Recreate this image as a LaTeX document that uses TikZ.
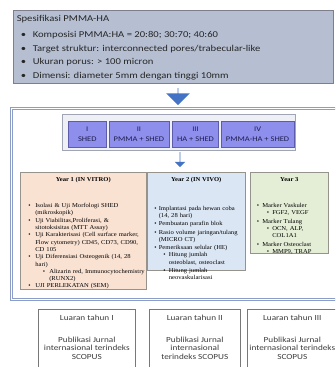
\documentclass[tikz,border=0pt]{standalone}
\usepackage{fontspec}
\setmainfont{Carlito}[FakeStretch=1.18]
\newfontfamily\serifpart{Liberation Serif}[FakeStretch=1.1]
\usepackage{enumitem}
\usetikzlibrary{shapes.arrows}
\usetikzlibrary{positioning}
\usetikzlibrary{calc}
\definecolor{specfill}{RGB}{182,191,210}
\definecolor{specline}{RGB}{125,128,138}
\definecolor{frameblue}{RGB}{140,158,200}
\definecolor{rowfill}{RGB}{238,240,246}
\definecolor{rowline}{RGB}{160,165,182}
\definecolor{groupfill}{RGB}{142,142,236}
\definecolor{groupline}{RGB}{92,92,170}
\definecolor{grouptext}{RGB}{30,30,80}
\definecolor{arrowblue}{RGB}{68,114,196}
\definecolor{vitrofill}{RGB}{250,226,211}
\definecolor{vivofill}{RGB}{219,230,244}
\definecolor{yearthreefill}{RGB}{228,238,214}
\definecolor{yearline}{RGB}{150,146,140}
\definecolor{outline}{RGB}{120,120,120}
\definecolor{outink}{RGB}{60,60,60}
\newcommand\linewd{.6pt}
\newcommand\specfont{\fontsize{9}{13.7}\selectfont}
\newcommand\groupfont{\fontsize{7.2}{9.6}\selectfont}
\newcommand\yearfont{\serifpart\fontsize{6}{7.3}\selectfont}
\newcommand\outfont{\fontsize{7.8}{8.5}\selectfont}
\newcommand\specitem{\makebox[16pt][l]{\hspace*{4pt}\textbullet}}
\setlist[itemize]{label=\textbullet,itemsep=1pt,topsep=0pt,parsep=0pt,partopsep=0pt}
\tikzset{
  specbox/.style={draw=specline,fill=specfill,line width=.9pt},
  frame/.style={draw=frameblue,double=white,double distance=1.2pt,line width=.6pt},
  rowbox/.style={draw=rowline,fill=rowfill},
  groupbox/.style={draw=groupline,fill=groupfill,text=grouptext,font=\groupfont,
    align=center,minimum height=26},
  blockarrow/.style={single arrow,shape border rotate=270,fill=arrowblue,draw=none},
  yearbox/.style={draw=yearline,fill=#1},
  yeartitle/.style={font=\yearfont\bfseries},
  yearlist/.style={font=\yearfont,align=left,yshift=-9pt},
  outbox/.style={draw=outline,minimum height=80},
  outtext/.style={font=\outfont,text=outink,align=center}
}

\begin{document}
\begin{tikzpicture}[x=1pt,y=-1pt,inner sep=0pt,line width=\linewd]
  \clip (0,0) rectangle (335,367);
  % specification
  \node[specbox,minimum width=320,minimum height=73,anchor=north west] (spec) at (13,10) {};
  \node[font=\specfont,text=black!85,align=left,anchor=north west] (spectxt) at (16.5,15) {%
    Spesifikasi PMMA-HA\\[2.3pt]
    \specitem Komposisi PMMA:HA = 20:80; 30:70; 40:60\\
    \specitem Target struktur: interconnected pores/trabecular-like\\
    \specitem Ukuran porus: > 100 micron\\
    \specitem Dimensi: diameter 5mm dengan tinggi 10mm};
  \node[blockarrow,minimum height=17,minimum width=20,single arrow head extend=11.5] (bigarrow) at (178,96.5) {};
  % frame
  \node[frame,minimum width=340,minimum height=191,anchor=north west] (frame) at (11,108) {};
  % groups
  \node[rowbox,minimum width=233,minimum height=36] (grouprow) at (178.5,132) {};
  \node[groupbox,minimum width=38,anchor=west] (gI) at (68,134) {I\\SHED};
  \node[groupbox,minimum width=60,right=2pt of gI] (gII) {II\\PMMA + SHED};
  \node[groupbox,minimum width=46,right=3pt of gII] (gIII) {III\\HA + SHED};
  \node[groupbox,minimum width=73,right=2pt of gIII] (gIV) {IV\\PMMA-HA + SHED};
  \node[blockarrow,minimum height=15,minimum width=10,single arrow head extend=5] (smallarrow) at (180,159.5) {};
  % years
  \node[yearbox=vitrofill,minimum width=126,minimum height=117,anchor=north west] (yearone) at (20,172) {};
  \node[yeartitle] (yearonetitle) at ($(yearone.north)+(0,8)$) {Year 1 (IN VITRO)};
  \node[yearlist,text width=130,anchor=north west] (yearonelist) at (26,191) {%
    \begin{itemize}[leftmargin=9pt,labelsep=4.5pt,itemsep=0pt]
      \item Isolasi \& Uji Morfologi SHED\\(mikroskopik)
      \item Uji Viabilitas,Proliferasi, \&\\sitotoksisitas (MTT Assay)
      \item Uji Karakterisasi (Cell surface marker,\\Flow cytometry) CD45, CD73, CD90,\\CD 105
      \item Uji Diferensiasi Osteogenik (14, 28\\hari)
      \begin{itemize}[leftmargin=14pt,labelsep=4pt,itemsep=0pt]
        \item Alizarin red, Immunocytochemistry\\(RUNX2)
      \end{itemize}
      \item UJI PERLEKATAN (SEM)
    \end{itemize}};
  \node[yearbox=vivofill,minimum width=98,minimum height=98,anchor=north west] (yeartwo) at (147,172) {};
  \node[yeartitle] (yeartwotitle) at ($(yeartwo.north)+(0,8)$) {Year 2 (IN VIVO)};
  \node[yearlist,text width=100,anchor=north west] (yeartwolist) at (153,193.5) {%
    \begin{itemize}[leftmargin=5.5pt,labelsep=2pt]
      \item Implantasi pada hewan coba\\(14, 28 hari)
      \item Pembuatan parafin blok
      \item Rasio volume jaringan/tulang\\(MICRO CT)
      \item Pemeriksaan selular (HE)
      \begin{itemize}[leftmargin=10pt,labelsep=3pt]
        \item Hitung jumlah\\osteoblast, osteoclast
        \item Hitung jumlah\\neovaskularisasi
      \end{itemize}
    \end{itemize}};
  \node[yearbox=yearthreefill,minimum width=78,minimum height=81,anchor=north west] (yearthree) at (250,172) {};
  \node[yeartitle] (yearthreetitle) at ($(yearthree.north)+(0,8)$) {Year 3};
  \node[yearlist,text width=80,anchor=north west] (yearthreelist) at (255,191) {%
    \begin{itemize}[leftmargin=7pt,labelsep=3pt]
      \item Marker Vaskuler
      \begin{itemize}[leftmargin=10pt,labelsep=3pt]
        \item FGF2, VEGF
      \end{itemize}
      \item Marker Tulang
      \begin{itemize}[leftmargin=10pt,labelsep=3pt]
        \item OCN, ALP,\\COL1A1
      \end{itemize}
      \item Marker Osteoclast
      \begin{itemize}[leftmargin=10pt,labelsep=3pt]
        \item MMP9, TRAP
      \end{itemize}
    \end{itemize}};
  % outputs
  \node[outbox,minimum width=97,anchor=north west] (outone) at (38,309) {};
  \node[outbox,minimum width=91,anchor=north west] (outtwo) at (149,309) {};
  \node[outbox,minimum width=90,anchor=north west] (outthree) at (247,309) {};
  \node[outtext,below=6pt of outone.north] (outonetxt) {Luaran tahun I\\[13pt]Publikasi Jurnal\\internasional terindeks\\SCOPUS};
  \node[outtext,below=6pt of outtwo.north] (outtwotxt) {Luaran tahun II\\[13pt]Publikasi Jurnal\\internasional\\terindeks SCOPUS};
  \node[outtext,below=6pt of outthree.north] (outthreetxt) {Luaran tahun III\\[13pt]Publikasi Jurnal\\internasional terindeks\\SCOPUS};
\end{tikzpicture}
\end{document}
